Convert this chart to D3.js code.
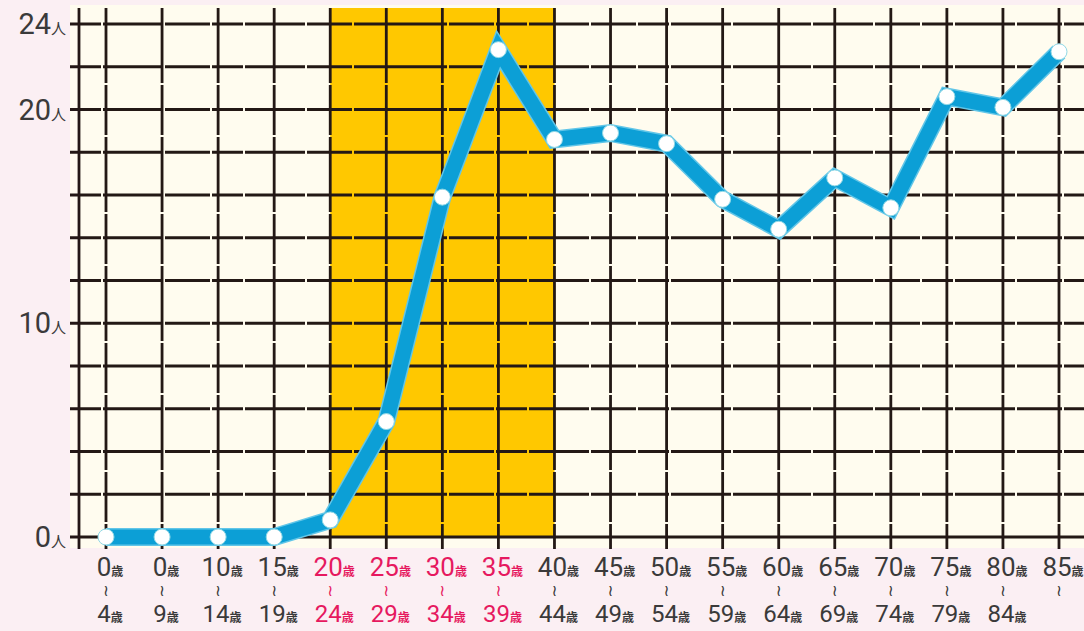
<!DOCTYPE html>
<html>
<head>
<meta charset="utf-8">
<script src="https://cdn.jsdelivr.net/npm/d3@7"></script>
<style>
  html, body { margin: 0; padding: 0; background: #fbeff3; }
  svg { display: block; }
  text { font-family: Roboto, "Noto Sans CJK JP", sans-serif; }
</style>
</head>
<body>
<svg width="1084" height="631"></svg>
<script>
// age groups (start / end of each range)
var ageFrom = ["0", "0", "10", "15", "20", "25", "30", "35", "40", "45", "50", "55", "60", "65", "70", "75", "80", "85"];
var ageTo   = ["4", "9", "14", "19", "24", "29", "34", "39", "44", "49", "54", "59", "64", "69", "74", "79", "84", ""];
// number of people per age group
var people  = [0, 0, 0, 0, 0.8, 5.4, 15.9, 22.8, 18.6, 18.9, 18.4, 15.8, 14.4, 16.8, 15.4, 20.6, 20.1, 22.7];
// highlighted range
var hiFrom = 4, hiTo = 8;
var yLabels = [0, 10, 20, 24];

var svg = d3.select("svg");
var cats = d3.range(ageFrom.length);

var x = d3.scalePoint().domain(cats).range([106, 1059]);
var y = d3.scaleLinear().domain([0, 24]).range([537, 24]);

// paper
svg.append("rect").attr("x", 70).attr("y", 5).attr("width", 1014).attr("height", 543)
  .attr("fill", "#fffcef");

// highlight band
svg.append("rect")
  .attr("x", x(hiFrom)).attr("y", 8)
  .attr("width", x(hiTo) - x(hiFrom)).attr("height", y(0) - 8)
  .attr("fill", "#ffc800");

// grid
var grid = svg.append("g").attr("stroke", "#231815").attr("stroke-width", 2.8);
grid.selectAll("line.h")
  .data(d3.range(0, 25, 2))
  .enter().append("line")
  .attr("class", "h")
  .attr("x1", 70).attr("x2", 1084)
  .attr("y1", function(d) { return y(d); })
  .attr("y2", function(d) { return y(d); })
  .attr("stroke-dasharray", function(d) { return d === 0 ? null : "31 2 60 2 45 2"; });

grid.selectAll("line.v")
  .data([-1].concat(cats))
  .enter().append("line")
  .attr("class", "v")
  .attr("x1", function(d) { return d < 0 ? 79 : x(d); })
  .attr("x2", function(d) { return d < 0 ? 79 : x(d); })
  .attr("y1", 8).attr("y2", 549)
  .attr("stroke-dasharray", function(d) { return d < 0 ? null : "75 2 50 2"; });

// line
var line = d3.line()
  .x(function(d, i) { return x(i); })
  .y(function(d) { return y(d); });

svg.append("path").datum(people)
  .attr("d", line)
  .attr("fill", "none")
  .attr("stroke", "#62c6e8")
  .attr("stroke-width", 18)
  .attr("stroke-linejoin", "miter");
svg.append("path").datum(people)
  .attr("d", line)
  .attr("fill", "none")
  .attr("stroke", "#0c9fd6")
  .attr("stroke-width", 15)
  .attr("stroke-linejoin", "miter");

svg.selectAll("circle.pt")
  .data(people)
  .enter().append("circle")
  .attr("class", "pt")
  .attr("cx", function(d, i) { return x(i); })
  .attr("cy", function(d) { return y(d); })
  .attr("r", 8)
  .attr("fill", "#ffffff")
  .attr("stroke", "#8fd8e6")
  .attr("stroke-width", 1);

// y labels
var yl = svg.selectAll("text.yl")
  .data(yLabels)
  .enter().append("text")
  .attr("class", "yl")
  .attr("x", 66)
  .attr("y", function(d) { return y(d) + 10; })
  .attr("text-anchor", "end")
  .attr("fill", "#3a3a3a");
yl.append("tspan").attr("font-size", 29).text(function(d) { return d; });
yl.append("tspan").attr("font-size", 15).text("人");

// x labels
function col(i) { return (i >= hiFrom && i < hiTo) ? "#e6195f" : "#3a3a3a"; }

var xl = svg.append("g").selectAll("g")
  .data(cats)
  .enter().append("g")
  .attr("transform", function(d) { return "translate(" + (x(d) + 4) + ",0)"; })
  .attr("fill", function(d) { return col(d); });

var t1 = xl.append("text").attr("y", 576).attr("text-anchor", "middle");
t1.append("tspan").attr("font-size", 26).text(function(d) { return ageFrom[d]; });
t1.append("tspan").attr("font-size", 12).attr("font-weight", "bold").text("歳");

xl.append("text")
  .attr("x", -4).attr("y", 596)
  .attr("text-anchor", "middle")
  .attr("font-size", 16)
  .style("font-family", "DejaVu Sans")
  .text("≀");

var t3 = xl.filter(function(d) { return ageTo[d] !== ""; })
  .append("text").attr("y", 622).attr("text-anchor", "middle");
t3.append("tspan").attr("font-size", 24).text(function(d) { return ageTo[d]; });
t3.append("tspan").attr("font-size", 12).attr("font-weight", "bold").text("歳");
</script>
</body>
</html>
